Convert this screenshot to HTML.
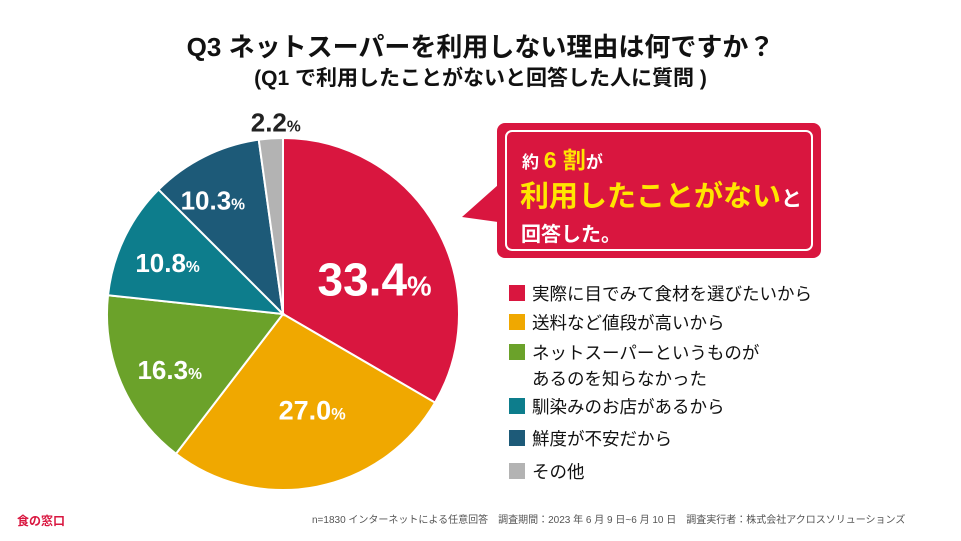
<!DOCTYPE html>
<html><head><meta charset="utf-8"><style>
body{margin:0;background:#fff;font-family:"Liberation Sans","Noto Sans CJK JP",sans-serif;}
#wrap{position:relative;width:961px;height:541px;overflow:hidden;background:#fff}
.t{position:absolute;white-space:nowrap}
</style></head><body>
<div id="wrap">
<div class="t" style="left:0;width:961px;text-align:center;top:27px;font-size:26px;font-weight:bold;color:#111">Q3 ネットスーパーを利用しない理由は何ですか？</div>
<div class="t" style="left:0;width:961px;text-align:center;top:62px;font-size:21px;font-weight:bold;color:#111">(Q1 で利用したことがないと回答した人に質問 )</div>
<svg id="pie" width="961" height="541" style="position:absolute;left:0;top:0"></svg>
<svg width="961" height="541" style="position:absolute;left:0;top:0">
<polygon points="462,217 498,185 498,222" fill="#d9163f"/>
<rect x="497" y="123" width="324" height="135" rx="8" fill="#d9163f"/>
<rect x="506" y="131" width="306" height="119" rx="6" fill="none" stroke="#fff" stroke-width="2"/>
<text x="522" y="168" font-size="17" font-weight="bold" fill="#fff" font-family="Liberation Sans, Noto Sans CJK JP, sans-serif">約 <tspan fill="#ffe600" font-size="23">6 割</tspan>が</text>
<text x="520" y="206" font-size="29" font-weight="bold" fill="#ffe600" font-family="Liberation Sans, Noto Sans CJK JP, sans-serif">利用したことがない<tspan fill="#fff" font-size="21">と</tspan></text>
<text x="521" y="241" font-size="20" font-weight="bold" fill="#fff" font-family="Liberation Sans, Noto Sans CJK JP, sans-serif">回答した。</text>
</svg>
<div id="legend"></div>
<div class="t" style="left:17px;top:512px;font-size:12px;font-weight:bold;color:#d9163f">食の窓口</div>
<div class="t" style="left:312px;top:511px;font-size:10px;color:#555">n=1830 インターネットによる任意回答　調査期間：2023 年 6 月 9 日~6 月 10 日　調査実行者：株式会社アクロスソリューションズ</div>
</div>
<script>
const categories=["実際に目でみて食材を選びたいから","送料など値段が高いから","ネットスーパーというものが\nあるのを知らなかった","馴染みのお店があるから","鮮度が不安だから","その他"];
const values=[33.4,27.0,16.3,10.8,10.3,2.2];
const colors=["#d9163f","#f0a800","#6ba22a","#0d7d8c","#1d5a78","#b3b3b3"];
const labelR=[0.6,0.62,0.62,0.62,0.64,1.17];
const labelDx=[0,8,-13,-17,-20,7];
const labelDy=[18,-11,13,-4,-13,14];
const labelSize=[46,27,26,26,26,26];
const NS="http://www.w3.org/2000/svg";
const svg=document.getElementById('pie');
const cx=283,cy=314,R=176;
const total=values.reduce((a,b)=>a+b,0);
function pt(a,r){return [cx+r*Math.sin(a),cy-r*Math.cos(a)];}
let acc=0;
values.forEach((v,i)=>{
  const a0=acc/total*2*Math.PI;acc+=v;const a1=acc/total*2*Math.PI;
  const p0=pt(a0,R),p1=pt(a1,R);
  const path=document.createElementNS(NS,'path');
  path.setAttribute('d',`M${cx},${cy}L${p0[0]},${p0[1]}A${R},${R} 0 ${a1-a0>Math.PI?1:0} 1 ${p1[0]},${p1[1]}Z`);
  path.setAttribute('fill',colors[i]);path.setAttribute('stroke','#fff');path.setAttribute('stroke-width','2');
  
  
  svg.appendChild(path);
  const m=(a0+a1)/2,lp=pt(m,R*labelR[i]);
  const t=document.createElementNS(NS,'text');
  t.setAttribute('x',lp[0]+labelDx[i]);t.setAttribute('y',lp[1]+labelDy[i]+labelSize[i]*0.35);
  t.setAttribute('text-anchor','middle');t.setAttribute('font-weight','bold');
  t.setAttribute('font-family','Liberation Sans, sans-serif');
  t.setAttribute('font-size',labelSize[i]);t.setAttribute('fill',i==5?'#222':'#fff');
  t.innerHTML=v.toFixed(1)+'<tspan font-size="'+(labelSize[i]*0.6)+'">%</tspan>';
  
  
  svg.appendChild(t);
});
const lg=document.getElementById('legend');
const tops=[284,313,343,397,429,462];
categories.forEach((c,i)=>{
  const sq=document.createElement('div');
  sq.style.cssText=`position:absolute;left:509px;top:${tops[i]+1}px;width:16px;height:16px;background:${colors[i]}`;
  
  
  lg.appendChild(sq);
  const tx=document.createElement('div');
  tx.className='t';
  tx.style.cssText=`left:532px;top:${tops[i]-3}px;font-size:17.5px;line-height:26px;color:#111;white-space:pre`;
  tx.textContent=c;
  
  
  lg.appendChild(tx);
});
</script>
</body></html>
